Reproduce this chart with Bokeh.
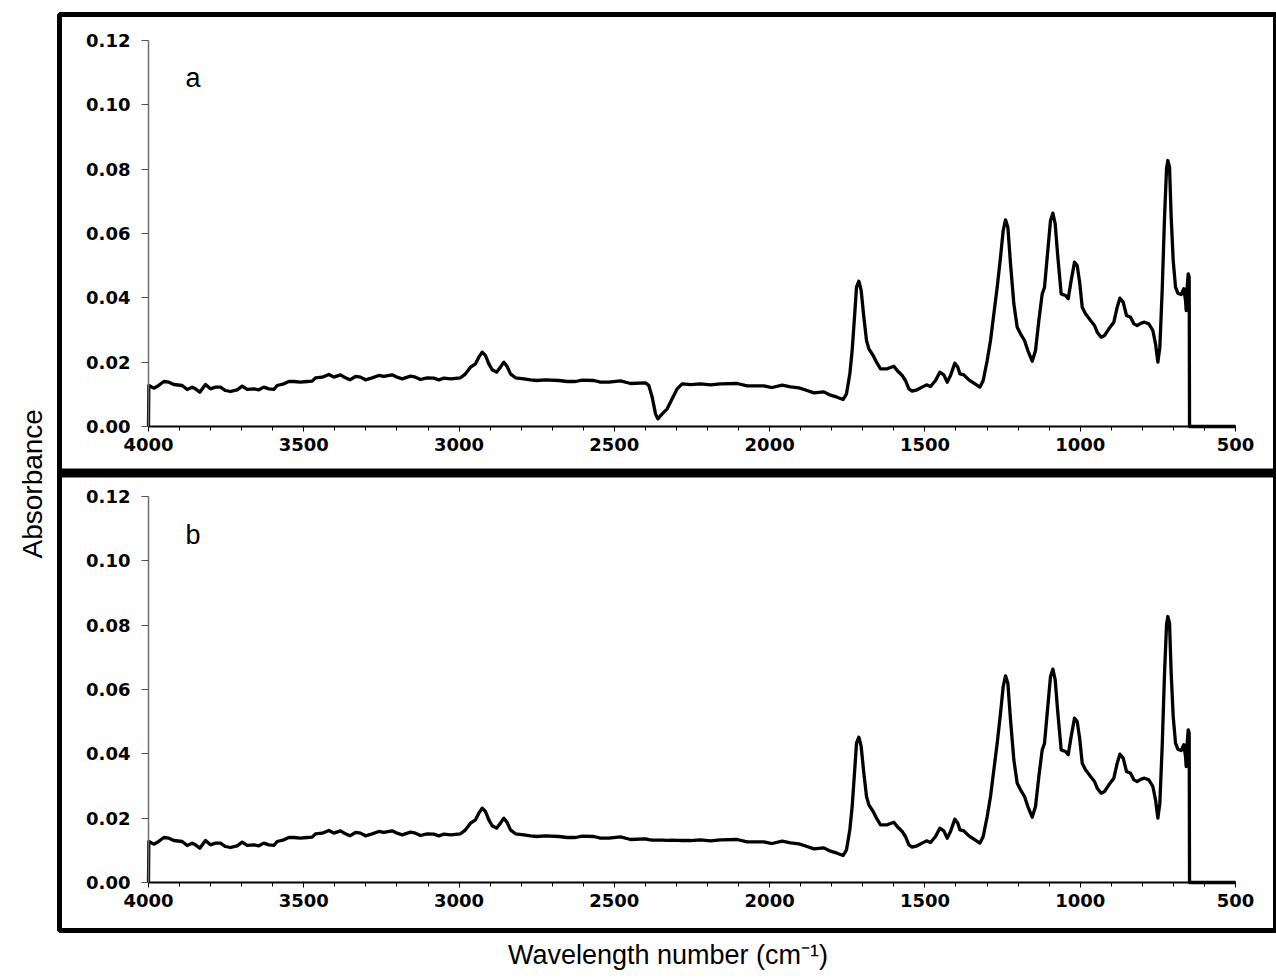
from bokeh.plotting import figure
from bokeh.models import (Range1d, LinearAxis, SingleIntervalTicker, NumeralTickFormatter,
                          Span, Label, Title)
from bokeh.embed import file_html
from bokeh.resources import INLINE

# ---------------- data ----------------
wavenumber = [4000, 3999, 3982.9, 3972.1, 3950.7, 3934.5, 3918.5, 3891.6, 3875.5, 3859.4,
              3848.7, 3834.7, 3816.5, 3800.4, 3784.3, 3768.2, 3752.1, 3736.0, 3714.5, 3698.4,
              3682.3, 3660.9, 3644.8, 3628.7, 3612.6, 3596.5, 3585.7, 3564.3, 3548.2, 3532.1,
              3510.6, 3489.1, 3473.0, 3462.3, 3440.8, 3419.4, 3403.3, 3381.8, 3365.7, 3351.8,
              3333.5, 3317.4, 3301.3, 3279.8, 3258.4, 3242.3, 3215.4, 3199.4, 3183.3, 3156.4,
              3140.3, 3124.2, 3102.8, 3081.3, 3065.2, 3049.1, 3027.6, 2995.4, 2979.3, 2963.2,
              2947.1, 2936.4, 2925.6, 2914.9, 2904.2, 2893.5, 2879.5, 2866.6, 2855.9, 2845.2,
              2834.4, 2818.3, 2791.5, 2770.0, 2748.6, 2721.7, 2678.8, 2651.9, 2625.1, 2603.6,
              2566.1, 2544.6, 2517.8, 2480.2, 2448.0, 2399.7, 2389.0, 2378.2, 2367.5, 2360.0,
              2346.0, 2329.9, 2313.9, 2297.7, 2281.7, 2254.8, 2222.6, 2190.4, 2158.2, 2104.6,
              2072.4, 2018.7, 1991.9, 1959.7, 1932.8, 1906.0, 1879.2, 1857.7, 1825.5, 1804.0,
              1782.6, 1763.2, 1752.5, 1741.8, 1734.3, 1726.8, 1720.3, 1712.8, 1705.3, 1696.7,
              1688.1, 1680.6, 1666.7, 1655.9, 1643.0, 1621.6, 1600.1, 1589.4, 1573.3, 1562.6,
              1551.8, 1541.1, 1525.0, 1508.9, 1495.0, 1482.0, 1465.9, 1452.0, 1439.1, 1428.4,
              1417.6, 1403.7, 1394.0, 1387.5, 1374.7, 1358.6, 1342.5, 1323.1, 1312.4, 1299.5,
              1288.8, 1278.1, 1267.3, 1256.6, 1248.0, 1240.5, 1233.0, 1224.4, 1213.7, 1202.9,
              1192.2, 1179.3, 1168.6, 1154.6, 1143.9, 1133.2, 1122.4, 1114.9, 1106.3, 1095.6,
              1088.1, 1080.6, 1072.0, 1061.3, 1047.3, 1038.7, 1029.1, 1018.3, 1009.7, 1001.2,
              993.6, 982.9, 966.8, 953.9, 945.3, 932.5, 921.7, 907.8, 891.7, 880.9,
              872.4, 861.6, 850.9, 838.0, 827.3, 816.6, 803.7, 793.0, 779.0, 766.1,
              757.5, 750.0, 743.6, 736.1, 728.5, 722.1, 717.8, 712.4, 707.1, 700.6,
              693.1, 685.6, 674.9, 666.3, 660.9, 658.8, 655.6, 652.3, 649.1, 648.0,
              500]

absorbance_a = [0.0, 0.01275, 0.01192, 0.01244, 0.01399, 0.01378, 0.01306, 0.01275, 0.01151, 0.01223,
                0.01171, 0.01068, 0.01306, 0.01171, 0.01223, 0.01223, 0.01119, 0.01088, 0.01140, 0.01254,
                0.01151, 0.01171, 0.01140, 0.01223, 0.01171, 0.01151, 0.01275, 0.01327, 0.01399, 0.01399,
                0.01378, 0.01399, 0.01410, 0.01513, 0.01534, 0.01617, 0.01534, 0.01606, 0.01513, 0.01451,
                0.01555, 0.01534, 0.01451, 0.01513, 0.01586, 0.01555, 0.01606, 0.01534, 0.01482, 0.01564,
                0.01534, 0.01461, 0.01513, 0.01503, 0.01451, 0.01503, 0.01482, 0.01513, 0.01637, 0.01845,
                0.01948, 0.02156, 0.02311, 0.02207, 0.01948, 0.01762, 0.01689, 0.01845, 0.02000, 0.01865,
                0.01637, 0.01513, 0.01482, 0.01451, 0.01430, 0.01451, 0.01430, 0.01399, 0.01399, 0.01440,
                0.01430, 0.01378, 0.01378, 0.01419, 0.01337, 0.01357, 0.01274, 0.00912, 0.00394, 0.00238,
                0.00394, 0.00549, 0.00860, 0.01171, 0.01326, 0.01305, 0.01326, 0.01295, 0.01326, 0.01337,
                0.01264, 0.01264, 0.01212, 0.01285, 0.01233, 0.01202, 0.01119, 0.01046, 0.01077, 0.00974,
                0.00912, 0.00839, 0.01015, 0.01637, 0.02362, 0.03399, 0.04331, 0.04518, 0.04228, 0.03399,
                0.02673, 0.02414, 0.02207, 0.02000, 0.01793, 0.01793, 0.01875, 0.01741, 0.01585, 0.01430,
                0.01171, 0.01098, 0.01140, 0.01223, 0.01295, 0.01243, 0.01430, 0.01689, 0.01606, 0.01378,
                0.01585, 0.01969, 0.01844, 0.01637, 0.01606, 0.01450, 0.01347, 0.01223, 0.01430, 0.02052,
                0.02673, 0.03502, 0.04331, 0.05264, 0.06093, 0.06425, 0.06197, 0.05057, 0.03813, 0.03088,
                0.02881, 0.02673, 0.02362, 0.02031, 0.02362, 0.03295, 0.04124, 0.04331, 0.05264, 0.06404,
                0.06632, 0.06300, 0.05264, 0.04124, 0.04072, 0.03969, 0.04539, 0.05109, 0.05005, 0.04435,
                0.03710, 0.03502, 0.03295, 0.03140, 0.02932, 0.02777, 0.02829, 0.03036, 0.03243, 0.03710,
                0.03989, 0.03865, 0.03451, 0.03399, 0.03191, 0.03140, 0.03212, 0.03243, 0.03191, 0.02984,
                0.02570, 0.02000, 0.02466, 0.04228, 0.06508, 0.08010, 0.08269, 0.08062, 0.06508, 0.05160,
                0.04331, 0.04145, 0.04104, 0.04280, 0.03917, 0.03606, 0.04331, 0.04746, 0.04642, 0.0,
                0.0]

absorbance_b = [0.0, 0.01275, 0.01192, 0.01244, 0.01399, 0.01378, 0.01306, 0.01275, 0.01151, 0.01223,
                0.01171, 0.01068, 0.01306, 0.01171, 0.01223, 0.01223, 0.01119, 0.01088, 0.01140, 0.01254,
                0.01151, 0.01171, 0.01140, 0.01223, 0.01171, 0.01151, 0.01275, 0.01327, 0.01399, 0.01399,
                0.01378, 0.01399, 0.01410, 0.01513, 0.01534, 0.01617, 0.01534, 0.01606, 0.01513, 0.01451,
                0.01555, 0.01534, 0.01451, 0.01513, 0.01586, 0.01555, 0.01606, 0.01534, 0.01482, 0.01564,
                0.01534, 0.01461, 0.01513, 0.01503, 0.01451, 0.01503, 0.01482, 0.01513, 0.01637, 0.01845,
                0.01948, 0.02156, 0.02311, 0.02207, 0.01948, 0.01762, 0.01689, 0.01845, 0.02000, 0.01865,
                0.01637, 0.01513, 0.01482, 0.01451, 0.01430, 0.01451, 0.01430, 0.01399, 0.01399, 0.01440,
                0.01430, 0.01378, 0.01378, 0.01419, 0.01337, 0.01357, 0.01330, 0.01320, 0.01315, 0.01320,
                0.01315, 0.01310, 0.01315, 0.01310, 0.01305, 0.01305, 0.01326, 0.01295, 0.01326, 0.01337,
                0.01264, 0.01264, 0.01212, 0.01285, 0.01233, 0.01202, 0.01119, 0.01046, 0.01077, 0.00974,
                0.00912, 0.00839, 0.01015, 0.01637, 0.02362, 0.03399, 0.04331, 0.04518, 0.04228, 0.03399,
                0.02673, 0.02414, 0.02207, 0.02000, 0.01793, 0.01793, 0.01875, 0.01741, 0.01585, 0.01430,
                0.01171, 0.01098, 0.01140, 0.01223, 0.01295, 0.01243, 0.01430, 0.01689, 0.01606, 0.01378,
                0.01585, 0.01969, 0.01844, 0.01637, 0.01606, 0.01450, 0.01347, 0.01223, 0.01430, 0.02052,
                0.02673, 0.03502, 0.04331, 0.05264, 0.06093, 0.06425, 0.06197, 0.05057, 0.03813, 0.03088,
                0.02881, 0.02673, 0.02362, 0.02031, 0.02362, 0.03295, 0.04124, 0.04331, 0.05264, 0.06404,
                0.06632, 0.06300, 0.05264, 0.04124, 0.04072, 0.03969, 0.04539, 0.05109, 0.05005, 0.04435,
                0.03710, 0.03502, 0.03295, 0.03140, 0.02932, 0.02777, 0.02829, 0.03036, 0.03243, 0.03710,
                0.03989, 0.03865, 0.03451, 0.03399, 0.03191, 0.03140, 0.03212, 0.03243, 0.03191, 0.02984,
                0.02570, 0.02000, 0.02466, 0.04228, 0.06508, 0.08010, 0.08269, 0.08062, 0.06508, 0.05160,
                0.04331, 0.04145, 0.04104, 0.04280, 0.03917, 0.03606, 0.04331, 0.04746, 0.04642, 0.0,
                0.0]

panel_labels = ["a", "b"]
x_axis_title = "Wavelength number (cm\u207b\u00b9)"
y_axis_title = "Absorbance"
x_min, x_max = 500, 4000
y_min, y_max = 0.0, 0.12

# ---------------- layout (pixels) ----------------
W, H = 1276, 979
FL, FR, FT, FB = 59, 1276, 14, 930          # frame (outer box) edges
AX_L, AX_R = 148, 1235                      # x=4000 and x=500 positions
A_TOP, A_BOT = 40, 426                      # panel a: y=0.12 and y=0
B_TOP, B_BOT = 496, 882                     # panel b
kx = (AX_R - AX_L) / (x_max - x_min)
ky = (A_BOT - A_TOP) / (y_max - y_min)

x_range = Range1d(x_max + (AX_L - FL) / kx, x_max - (FR - AX_L) / kx)
ya_range = Range1d(-(FB - A_BOT) / ky, y_max + (A_TOP - FT) / ky)
yb_range = Range1d(-(FB - B_BOT) / ky, y_max + (B_TOP - FT) / ky)

p = figure(width=W, height=H, output_backend="svg", toolbar_location=None,
           x_range=x_range, y_range=ya_range,
           x_axis_location=None, y_axis_location=None,
           frame_width=FR - FL, frame_height=FB - FT,
           min_border_left=FL, min_border_right=W - FR,
           min_border_top=FT, min_border_bottom=H - FB)
p.extra_y_ranges = {"b": yb_range}
p.outline_line_color = "black"
p.outline_line_width = 5
p.background_fill_color = "white"
p.border_fill_color = "white"
for g in p.grid:
    g.visible = False

TICK_FONT = "DejaVu Sans"
TICK_SIZE = "18px"

def add_axes(rname):
    xa = LinearAxis(y_range_name=rname, fixed_location=0, bounds=(x_min, x_max),
                    ticker=SingleIntervalTicker(interval=500, num_minor_ticks=5),
                    formatter=NumeralTickFormatter(format="0"))
    xa.axis_line_color = "black"
    xa.axis_line_width = 2
    xa.major_tick_line_color = "black"
    xa.minor_tick_line_color = "black"
    xa.major_tick_out = 5
    xa.major_tick_in = 0
    xa.minor_tick_out = 4
    xa.minor_tick_in = 0
    xa.major_label_standoff = 6
    xa.major_label_text_font = TICK_FONT
    xa.major_label_text_font_style = "bold"
    xa.major_label_text_font_size = TICK_SIZE
    xa.major_label_text_color = "black"
    p.add_layout(xa, "below")

    ya = LinearAxis(y_range_name=rname, fixed_location=x_max, bounds=(y_min, y_max),
                    ticker=SingleIntervalTicker(interval=0.02, num_minor_ticks=0),
                    formatter=NumeralTickFormatter(format="0.00"))
    ya.axis_line_color = "#707070"
    ya.axis_line_width = 1.5
    ya.major_tick_line_color = "#505050"
    ya.major_tick_out = 7
    ya.major_tick_in = 0
    ya.minor_tick_line_color = None
    ya.major_label_standoff = 11
    ya.major_label_text_font = TICK_FONT
    ya.major_label_text_font_style = "bold"
    ya.major_label_text_font_size = TICK_SIZE
    ya.major_label_text_color = "black"
    p.add_layout(ya, "left")

add_axes("default")
add_axes("b")

p.line(wavenumber, absorbance_a, line_color="black", line_width=3.3, line_join="round")
p.line(wavenumber, absorbance_b, line_color="black", line_width=3.3, line_join="round",
       y_range_name="b")

# separator between the two panels
p.add_layout(Span(location=-(472.5 - A_BOT) / ky, dimension="width",
                  line_color="black", line_width=9))

# panel letters
lbl_x = x_max - (185 - AX_L) / kx
p.add_layout(Label(x=lbl_x, y=(A_BOT - 77) / ky, text=panel_labels[0],
                   text_font="Liberation Sans", text_font_size="27px",
                   text_baseline="alphabetic", text_color="black"))
p.add_layout(Label(x=lbl_x, y=(B_BOT - 534) / ky, text=panel_labels[1], y_range_name="b",
                   text_font="Liberation Sans", text_font_size="27px",
                   text_baseline="alphabetic", text_color="black"))

# outer axis titles
p.add_layout(Title(text=y_axis_title, align="left", vertical_align="top",
                   offset=FB - 558, standoff=20,
                   text_font="Liberation Sans", text_font_style="normal",
                   text_font_size="28px", text_color="black"), "left")
p.add_layout(Title(text=x_axis_title, align="center", standoff=14,
                   text_font="Liberation Sans", text_font_style="normal",
                   text_font_size="27px", text_color="black"), "below")

open("out.html", "w").write(file_html(p, INLINE))
